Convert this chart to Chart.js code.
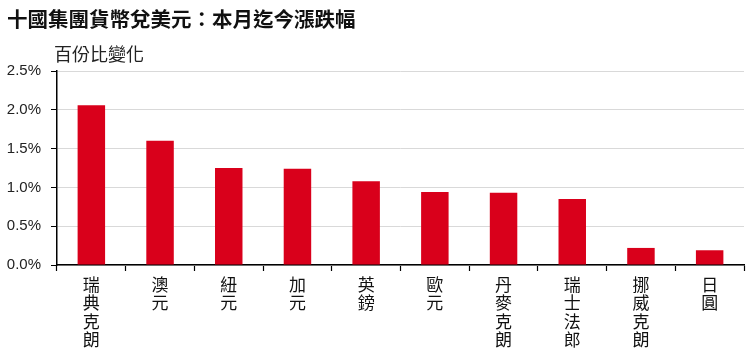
<!DOCTYPE html>
<html>
<head>
<meta charset="utf-8">
<script src="https://cdn.jsdelivr.net/npm/chart.js@4/dist/chart.umd.min.js"></script>
<style>
  html, body { margin: 0; padding: 0; background: #fff; }
  #wrap { position: relative; width: 751px; height: 358px; }
  #title { position: absolute; left: 7px; top: 3px; font: bold 20.5px "Noto Sans CJK TC", sans-serif; color: #111; white-space: nowrap; }
  #ylabel { position: absolute; left: 54px; top: 40px; font: 18px "Noto Sans CJK TC", sans-serif; color: #222; white-space: nowrap; }
  canvas { position: absolute; left: 0; top: 0; }
</style>
</head>
<body>
<div id="wrap">
  <canvas id="c" width="751" height="358"></canvas>
  <div id="title">十國集團貨幣兌美元：本月迄今漲跌幅</div>
  <div id="ylabel">百份比變化</div>
</div>
<script>
const categories = ['瑞典克朗', '澳元', '紐元', '加元', '英鎊', '歐元', '丹麥克朗', '瑞士法郎', '挪威克朗', '日圓'];
const changePct = [2.06, 1.60, 1.25, 1.24, 1.08, 0.94, 0.93, 0.85, 0.22, 0.19];
const yTicks = [0, 0.5, 1.0, 1.5, 2.0, 2.5];

const verticalLabels = categories.map(s => Array.from(s));

new Chart(document.getElementById('c'), {
  type: 'bar',
  data: {
    labels: verticalLabels,
    datasets: [{
      data: changePct,
      backgroundColor: '#d9001b',
      borderWidth: 0,
      barPercentage: 0.4,
      categoryPercentage: 1.0
    }]
  },
  options: {
    responsive: false,
    animation: false,
    devicePixelRatio: 1,
    layout: { padding: { top: 71, right: 7, bottom: 0, left: 0 } },
    plugins: { legend: { display: false }, tooltip: { enabled: false }, title: { display: false } },
    scales: {
      x: {
        offset: true,
        grid: { display: true, drawOnChartArea: false, offset: true, tickColor: '#000', tickLength: 6, tickWidth: 1.2 },
        border: { display: true, color: '#000', width: 1.5 },
        ticks: {
          maxRotation: 0, minRotation: 0, autoSkip: false, padding: 5,
          color: '#111',
          font: { family: '"Noto Sans CJK TC", sans-serif', size: 17, lineHeight: 1.06 }
        },
        afterFit: (s) => { s.height = 93; }
      },
      y: {
        min: 0, max: 2.5,
        afterBuildTicks: (s) => { s.ticks = yTicks.map(v => ({ value: v })); },
        grid: { color: '#d9d9d9', lineWidth: 1, tickColor: '#000', tickLength: 6, drawTicks: true },
        border: { display: true, color: '#000', width: 1.5 },
        ticks: {
          padding: 10,
          color: '#222',
          font: { family: '"Liberation Sans", Arial, sans-serif', size: 15 },
          callback: (v) => Number(v).toFixed(1) + '%'
        },
        afterFit: (s) => { s.width = 57; }
      }
    }
  }
});
</script>
</body>
</html>
